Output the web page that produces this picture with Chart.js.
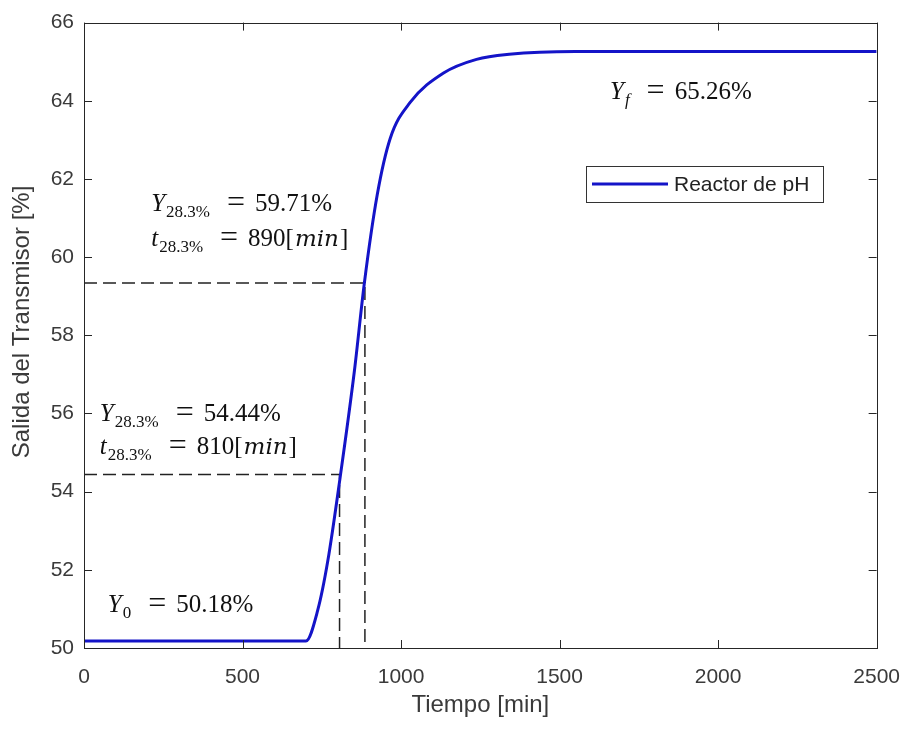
<!DOCTYPE html>
<html>
<head>
<meta charset="utf-8">
<script src="https://cdn.jsdelivr.net/npm/chart.js@4.4.1/dist/chart.umd.min.js"></script>
<style>
  html, body { margin: 0; padding: 0; background: #fff; }
  #wrap { width: 917px; height: 730px; }
</style>
</head>
<body>
<div id="wrap"><canvas id="grafica" width="917" height="730"></canvas></div>
<script>
// respuesta del reactor (tiempo en min, salida en %)
const tiempo = [0, 700, 737, 769, 809, 853, 884, 925, 966, 1028, 1134, 1238, 1341, 1550, 2500];
const salida = [50.18, 50.18, 50.96, 52.23, 54.43, 57.1, 59.32, 61.6, 63.04, 63.95, 64.71, 65.06, 65.19, 65.26, 65.26];

// puntos marcados con lineas punteadas
const tMarcas = [806, 886];
const yMarcas = [54.44, 59.34];

const xTicks = [0, 500, 1000, 1500, 2000, 2500];
const yTicks = [50, 52, 54, 56, 58, 60, 62, 64, 66];

const azul = '#1414c8';
const gris = '#3a3a3a';

// textos de las anotaciones, anclados en coordenadas de datos
// i = cursiva, n = normal, s = subindice, si = subindice en cursiva, eq = signo igual, u = unidad
const notas = [
    {t: 1659, v: 64.05, partes: [['Y', 'i'], ['f', 'si'], ['=', 'eq'], ['65.26%', 'n']]},
    {t: 212, v: 61.19, partes: [['Y', 'i'], ['28.3%', 's'], ['=', 'eq'], ['59.71%', 'n']]},
    {t: 212, v: 60.28, partes: [['t', 'i'], ['28.3%', 's'], ['=', 'eq'], ['890[', 'n'], ['min', 'u'], [']', 'n']]},
    {t: 50, v: 55.82, partes: [['Y', 'i'], ['28.3%', 's'], ['=', 'eq'], ['54.44%', 'n']]},
    {t: 50, v: 54.96, partes: [['t', 'i'], ['28.3%', 's'], ['=', 'eq'], ['810[', 'n'], ['min', 'u'], [']', 'n']]},
    {t: 75, v: 50.91, partes: [['Y', 'i'], ['0', 's'], ['=', 'eq'], ['50.18%', 'n']]}
];

function punteada(i) {
    return [
        {x: 0, y: yMarcas[i]},
        {x: tMarcas[i], y: yMarcas[i]},
        {x: tMarcas[i], y: 50}
    ];
}

const datosCurva = tiempo.map((t, i) => ({x: t, y: salida[i]}));

const marco = {
    id: 'marco',
    afterDraw(chart) {
        const ctx = chart.ctx;
        const a = chart.chartArea;
        const xs = chart.scales.x, ys = chart.scales.y;
        ctx.save();

        // anotaciones
        ctx.fillStyle = '#111';
        ctx.textBaseline = 'alphabetic';
        notas.forEach(n => {
            let x = xs.getPixelForValue(n.t);
            const y = ys.getPixelForValue(n.v);
            n.partes.forEach(p => {
                let dy = 0, antes = 0, despues = 0;
                if (p[1] === 'i') { ctx.font = 'italic 25px "Liberation Serif"'; despues = 1; }
                else if (p[1] === 'u') { ctx.font = 'italic 23px "DejaVu Serif"'; antes = 1; despues = 1; }
                else if (p[1] === 'n') ctx.font = '25px "Liberation Serif"';
                else if (p[1] === 'eq') { ctx.font = '32px "Liberation Serif"'; antes = 17; despues = 10; dy = 1; }
                else if (p[1] === 'si') { ctx.font = 'italic 17px "Liberation Serif"'; dy = 6; }
                else { ctx.font = '17px "Liberation Serif"'; dy = 6; }
                x += antes;
                ctx.fillText(p[0], x, y + dy);
                x += ctx.measureText(p[0]).width + despues;
            });
        });

        // leyenda
        ctx.fillStyle = '#fff';
        ctx.fillRect(586, 166, 237, 36);
        ctx.strokeStyle = '#333';
        ctx.lineWidth = 1;
        ctx.strokeRect(586.5, 166.5, 237, 36);
        ctx.strokeStyle = azul;
        ctx.lineWidth = 3;
        ctx.beginPath();
        ctx.moveTo(592, 184);
        ctx.lineTo(668, 184);
        ctx.stroke();
        ctx.fillStyle = '#222';
        ctx.font = '21px "Liberation Sans"';
        ctx.textBaseline = 'middle';
        ctx.fillText('Reactor de pH', 674, 185);

        // caja y marcas hacia adentro
        ctx.strokeStyle = '#262626';
        ctx.lineWidth = 1;
        ctx.strokeRect(Math.round(a.left) + 0.5, Math.round(a.top) + 0.5,
            Math.round(a.right - a.left), Math.round(a.bottom - a.top));
        ctx.beginPath();
        xTicks.forEach(v => {
            const px = Math.round(xs.getPixelForValue(v)) + 0.5;
            ctx.moveTo(px, a.bottom); ctx.lineTo(px, a.bottom - 8);
            ctx.moveTo(px, a.top); ctx.lineTo(px, a.top + 8);
        });
        yTicks.forEach(v => {
            const py = Math.round(ys.getPixelForValue(v)) + 0.5;
            ctx.moveTo(a.left, py); ctx.lineTo(a.left + 8, py);
            ctx.moveTo(a.right, py); ctx.lineTo(a.right - 8, py);
        });
        ctx.stroke();
        ctx.restore();
    }
};

const fuenteEjes = {family: '"Liberation Sans"', size: 21};

new Chart(document.getElementById('grafica'), {
    type: 'line',
    data: {
        datasets: [
            {
                label: 'Reactor de pH',
                data: datosCurva,
                borderColor: azul,
                borderWidth: 3,
                pointRadius: 0,
                cubicInterpolationMode: 'monotone',
                order: 0
            },
            {
                label: 'm1',
                data: punteada(0),
                borderColor: '#222',
                borderWidth: 1.5,
                borderDash: [13, 6],
                pointRadius: 0,
                order: 1
            },
            {
                label: 'm2',
                data: punteada(1),
                borderColor: '#222',
                borderWidth: 1.5,
                borderDash: [13, 6],
                pointRadius: 0,
                order: 1
            }
        ]
    },
    options: {
        responsive: false,
        animation: false,
        layout: {padding: {left: 0, top: 16, right: 33, bottom: 0}},
        plugins: {
            legend: {display: false},
            tooltip: {enabled: false}
        },
        scales: {
            x: {
                type: 'linear',
                min: 0,
                max: 2500,
                afterFit: s => { s.height = 82; },
                afterBuildTicks: s => { s.ticks = xTicks.map(v => ({value: v})); },
                ticks: {color: gris, font: fuenteEjes, padding: 17, maxRotation: 0, callback: v => String(v)},
                grid: {display: false, drawTicks: false},
                border: {display: false},
                title: {
                    display: true,
                    text: 'Tiempo [min]',
                    color: gris,
                    font: {family: '"Liberation Sans"', size: 24},
                    padding: {top: 0, bottom: 10}
                }
            },
            y: {
                min: 50,
                max: 66,
                afterFit: s => { s.width = 84; },
                afterBuildTicks: s => { s.ticks = yTicks.map(v => ({value: v})); },
                ticks: {color: gris, font: fuenteEjes, padding: 10, callback: v => String(v)},
                grid: {display: false, drawTicks: false},
                border: {display: false},
                title: {
                    display: true,
                    // espacios al inicio para subir un poco el texto
                    text: '    Salida del Transmisor [%]',
                    color: gris,
                    font: {family: '"Liberation Sans"', size: 24},
                    padding: {top: 8, bottom: 0}
                }
            }
        }
    },
    plugins: [marco]
});
</script>
</body>
</html>
